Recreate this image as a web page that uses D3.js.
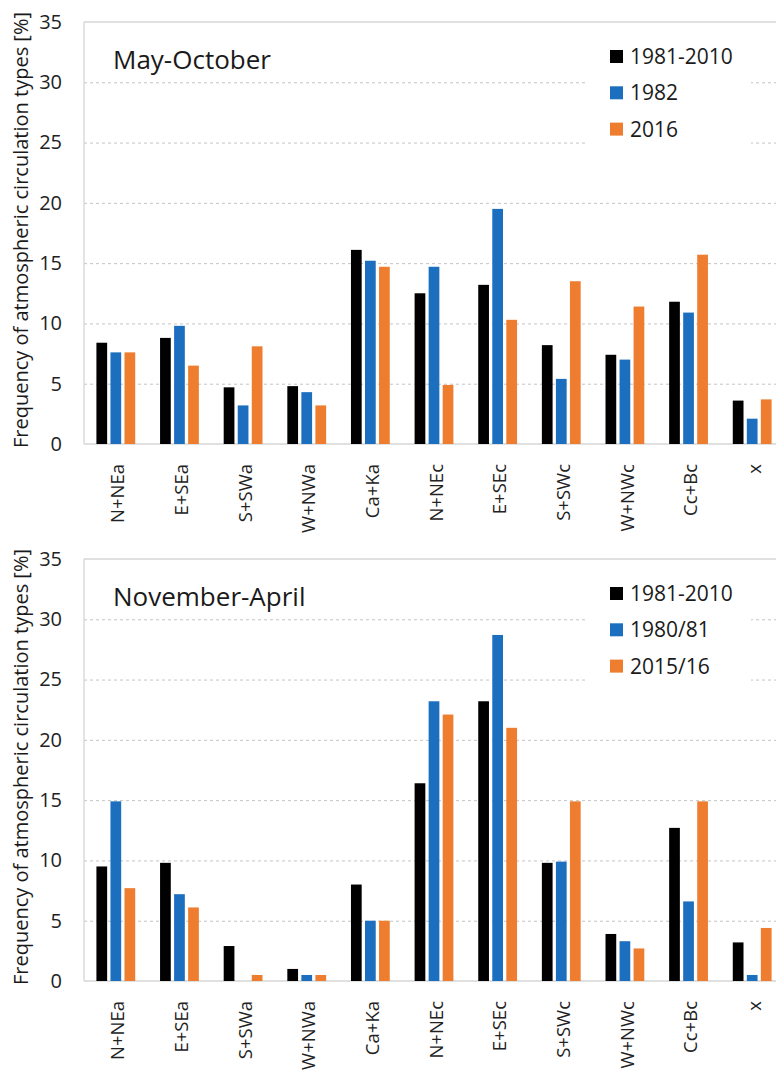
<!DOCTYPE html>
<html>
<head>
<meta charset="utf-8">
<script src="https://cdn.jsdelivr.net/npm/d3@7"></script>
<style>
  html, body { margin: 0; padding: 0; background: #fff; }
  svg { display: block; font-family: "Open Sans", sans-serif; }
</style>
</head>
<body>
<svg id="chart" width="776" height="1075"></svg>
<script>
// Circulation type groups (anticyclonic "a", cyclonic "c", unclassified "x")
const categories = ["N+NEa", "E+SEa", "S+SWa", "W+NWa", "Ca+Ka", "N+NEc", "E+SEc", "S+SWc", "W+NWc", "Cc+Bc", "x"];
const yTicks = [0, 5, 10, 15, 20, 25, 30, 35];

// Warm half-year (May-October), frequency in %
const summerLabels = ["1981-2010", "1982", "2016"];
const summerNormal = [8.4, 8.8, 4.7, 4.8, 16.1, 12.5, 13.2, 8.2, 7.4, 11.8, 3.6];
const summer1982   = [7.6, 9.8, 3.2, 4.3, 15.2, 14.7, 19.5, 5.4, 7.0, 10.9, 2.1];
const summer2016   = [7.6, 6.5, 8.1, 3.2, 14.7, 4.9, 10.3, 13.5, 11.4, 15.7, 3.7];

// Cold half-year (November-April), frequency in %
const winterLabels = ["1981-2010", "1980/81", "2015/16"];
const winterNormal = [9.5, 9.8, 2.9, 1.0, 8.0, 16.4, 23.2, 9.8, 3.9, 12.7, 3.2];
const winter1980   = [14.9, 7.2, 0.0, 0.5, 5.0, 23.2, 28.7, 9.9, 3.3, 6.6, 0.5];
const winter2015   = [7.7, 6.1, 0.5, 0.5, 5.0, 22.1, 21.0, 14.9, 2.7, 14.9, 4.4];

const colors = ["#000000", "#1c6ebf", "#ee7d2f"];
const yTitle = "Frequency of atmospheric circulation types [%]";

const svg = d3.select("#chart");
svg.append("rect").attr("width", 776).attr("height", 1075).attr("fill", "#fff");

const plotLeft = 84, plotRight = 784;

function drawPanel(opts) {
  const { top, bottom, title, labels, series } = opts;
  const g = svg.append("g");

  const x = d3.scaleBand().domain(categories).range([plotLeft, plotRight]);
  const y = d3.scaleLinear().domain([0, 35]).range([bottom, top]);
  const bw = x.bandwidth();
  const inner = d3.scaleBand().domain(d3.range(series.length))
    .range([bw / 2 - 19.4, bw / 2 + 19.4]).paddingInner(0.236);

  // dashed horizontal gridlines
  const grid = g.append("g")
    .attr("transform", `translate(${plotLeft},0)`)
    .call(d3.axisLeft(y).tickValues(yTicks.filter(v => v > 0 && v < 35))
      .tickSize(-(plotRight - plotLeft)).tickFormat(""));
  grid.select(".domain").remove();
  grid.selectAll(".tick line")
    .attr("stroke", "#c4c4c4").attr("stroke-width", 1)
    .attr("stroke-dasharray", "3,3");

  // plot frame: top edge, left edge, baseline
  g.append("line").attr("x1", plotLeft).attr("x2", plotRight)
    .attr("y1", y(35)).attr("y2", y(35)).attr("stroke", "#d6d6d6").attr("stroke-width", 1.3);
  g.append("line").attr("x1", plotLeft).attr("x2", plotLeft)
    .attr("y1", y(35)).attr("y2", y(0)).attr("stroke", "#d6d6d6").attr("stroke-width", 1.3);
  g.append("line").attr("x1", plotLeft).attr("x2", plotRight)
    .attr("y1", y(0)).attr("y2", y(0)).attr("stroke", "#d6d6d6").attr("stroke-width", 1.3);

  // y-axis tick labels
  const ya = g.append("g")
    .attr("transform", `translate(${plotLeft - 22},0)`)
    .call(d3.axisLeft(y).tickValues(yTicks).tickSize(0).tickPadding(0));
  ya.select(".domain").remove();
  ya.selectAll("text")
    .attr("font-family", "Open Sans").attr("font-size", 20).attr("fill", "#222");

  // category labels, rotated
  const xa = g.append("g")
    .attr("transform", `translate(0,${y(0)})`)
    .call(d3.axisBottom(x).tickSize(0).tickPadding(0));
  xa.select(".domain").remove();
  xa.selectAll("text")
    .attr("font-family", "Open Sans").attr("font-size", 18.5).attr("fill", "#222")
    .attr("text-anchor", "end")
    .attr("transform", "translate(2,20) rotate(-90)")
    .attr("x", 0).attr("y", 0).attr("dy", "0.36em");

  // grouped bars
  const groups = g.append("g").selectAll("g")
    .data(categories).join("g")
    .attr("transform", d => `translate(${x(d)},0)`);
  groups.selectAll("rect")
    .data((d, i) => series.map((s, k) => ({ k, v: s[i] })))
    .join("rect")
    .attr("x", d => inner(d.k))
    .attr("width", inner.bandwidth())
    .attr("y", d => y(d.v))
    .attr("height", d => y(0) - y(d.v))
    .attr("fill", d => colors[d.k]);

  // panel title
  g.append("text").attr("x", 113).attr("y", top + 47)
    .attr("font-family", "Open Sans").attr("font-size", 26).attr("fill", "#1a1a1a")
    .text(title);

  // legend on a white box
  const lgTop = top + 42;
  g.append("rect").attr("x", 588).attr("y", lgTop - 30)
    .attr("width", 163).attr("height", 118).attr("fill", "#fff");
  labels.forEach((lab, k) => {
    const by = lgTop + k * 36.3;
    g.append("rect").attr("x", 610).attr("y", by - 14)
      .attr("width", 13).attr("height", 13).attr("fill", colors[k]);
    g.append("text").attr("x", 630).attr("y", by)
      .attr("font-family", "Open Sans").attr("font-size", 21).attr("fill", "#1a1a1a")
      .text(lab);
  });

  // y-axis title
  const cy = (y(35) + y(0)) / 2 - 3;
  g.append("text")
    .attr("transform", `translate(28,${cy}) rotate(-90)`)
    .attr("text-anchor", "middle")
    .attr("font-family", "Open Sans").attr("font-size", 20).attr("fill", "#1a1a1a")
    .text(yTitle);
}

drawPanel({ top: 22, bottom: 444, title: "May-October", labels: summerLabels,
  series: [summerNormal, summer1982, summer2016] });
drawPanel({ top: 559, bottom: 981, title: "November-April", labels: winterLabels,
  series: [winterNormal, winter1980, winter2015] });
</script>
</body>
</html>
